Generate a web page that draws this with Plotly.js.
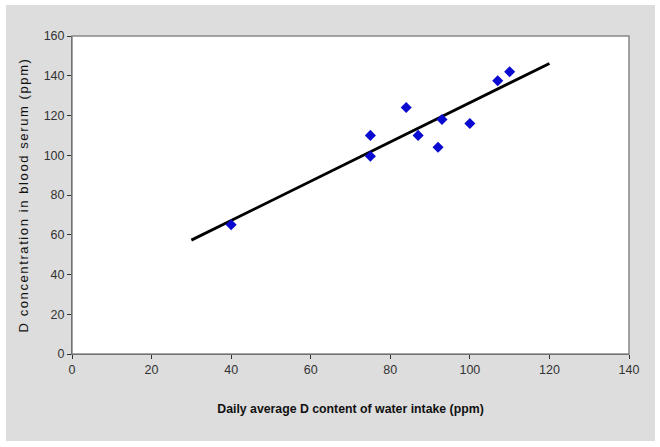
<!DOCTYPE html>
<html>
<head>
<meta charset="utf-8">
<script src="https://cdn.plot.ly/plotly-3.0.1.min.js"></script>
<style>
html,body{margin:0;padding:0;background:#ffffff;}
#bg{position:absolute;left:6px;top:5px;width:649px;height:436px;background:#dddddd;}
#chart{position:absolute;left:0;top:0;width:660px;height:447px;}
</style>
</head>
<body>
<div id="bg"></div>
<div id="chart"></div>
<script>
// Measured points (Daily average D content of water intake, D in blood serum)
var intakeX = [40, 75, 75, 84, 87, 92, 93, 100, 107, 110];
var serumY  = [65, 110, 99.5, 124, 110, 104, 118, 116, 137.5, 142];
// Trend line end points
var trendX = [30, 120];
var trendY = [57.3, 146.2];
var xTicks = [0, 20, 40, 60, 80, 100, 120, 140];
var yTicks = [0, 20, 40, 60, 80, 100, 120, 140, 160];

var tickFont = {family: '"Liberation Sans Narrow", "Arial Narrow", "Liberation Sans", Arial, sans-serif', size: 12.5, color: '#333333'};

var traces = [
  {x: trendX, y: trendY, mode: 'lines', type: 'scatter',
   line: {color: '#000000', width: 2.8}, hoverinfo: 'skip', showlegend: false},
  {x: intakeX, y: serumY, mode: 'markers', type: 'scatter',
   marker: {symbol: 'diamond', size: 8.5, color: '#0a0ad0'}, showlegend: false}
];

var layout = {
  width: 660, height: 447,
  margin: {l: 72, r: 31, t: 36, b: 93},
  paper_bgcolor: 'rgba(0,0,0,0)',
  plot_bgcolor: '#ffffff',
  showlegend: false,
  xaxis: {
    range: [0, 140], tickvals: xTicks, ticktext: xTicks.map(String),
    showgrid: false, zeroline: false, showline: true, linecolor: '#333333', linewidth: 1,
    ticks: 'outside', ticklen: 4, tickcolor: '#333333', tickfont: tickFont, fixedrange: true,
    title: {text: 'Daily average D content of water intake (ppm)', standoff: 28,
      font: {family: '"Liberation Sans Narrow", "Arial Narrow", "Liberation Sans", Arial, sans-serif', size: 12.3, weight: 'bold', color: '#111111'}}
  },
  yaxis: {
    range: [0, 160], tickvals: yTicks, ticktext: yTicks.map(String),
    showgrid: false, zeroline: false, showline: true, linecolor: '#333333', linewidth: 1,
    ticks: 'outside', ticklen: 4, tickcolor: '#333333', tickfont: tickFont, fixedrange: true,
    title: {text: 'D concentration in blood serum (ppm)', standoff: 12,
      font: {family: '"Liberation Sans", Arial, sans-serif', size: 13, color: '#111111'}}
  },
  shapes: [
    {type: 'rect', xref: 'paper', yref: 'paper', x0: 0, x1: 1, y0: 0, y1: 1,
     line: {color: '#888888', width: 1.5}, fillcolor: 'rgba(0,0,0,0)', layer: 'above'}
  ]
};

Plotly.newPlot('chart', traces, layout, {displayModeBar: false, staticPlot: true}).then(function(){
  var yt = document.querySelector('.ytitle');
  if (yt) { yt.style.letterSpacing = '1.6px'; }
});
</script>
</body>
</html>
